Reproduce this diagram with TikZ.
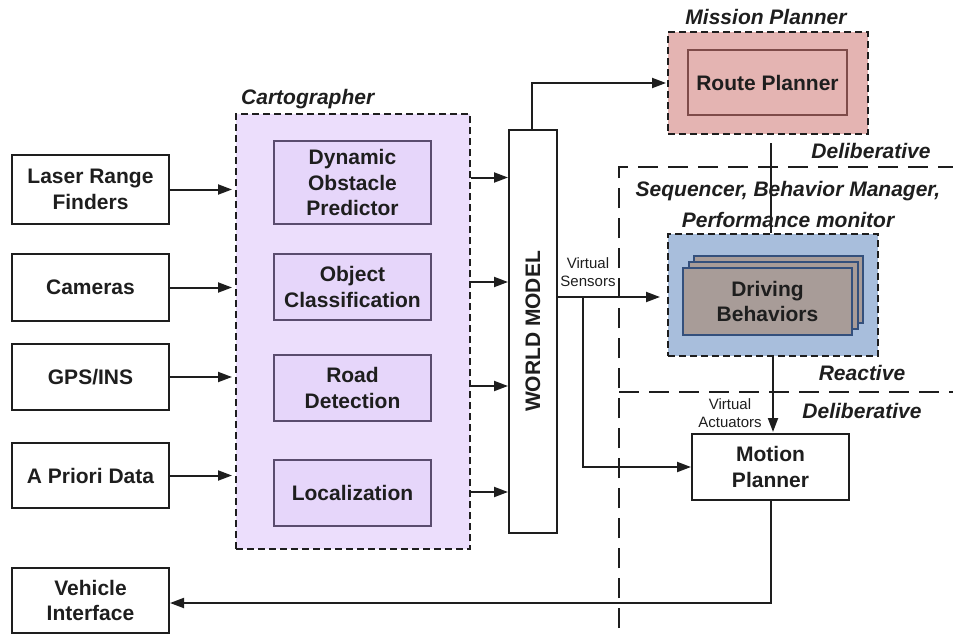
\documentclass[tikz,border=0pt]{standalone}
\usepackage{fontspec}
\setmainfont{Liberation Sans}
\usetikzlibrary{arrows.meta,calc}
\definecolor{cartfill}{RGB}{236,222,252}
\definecolor{cartin}{RGB}{230,214,250}
\definecolor{cartedge}{RGB}{90,76,110}
\definecolor{misfill}{RGB}{228,180,178}
\definecolor{misedge}{RGB}{126,75,73}
\definecolor{blufill}{RGB}{168,190,220}
\definecolor{cardfill}{RGB}{168,156,152}
\definecolor{cardedge}{RGB}{52,80,124}
\definecolor{ink}{RGB}{30,30,30}
\tikzset{
  boxtext/.style={text=ink, font=\bfseries\fontsize{21}{25.5}\selectfont, align=center},
  plainbox/.style={draw=ink, line width=2pt, fill=white, boxtext, inner sep=0pt},
  groupbox/.style={draw=ink, line width=2pt, dash pattern=on 7pt off 4pt, inner sep=0pt},
  innerbox/.style={draw=cartedge, line width=2pt, fill=cartin, boxtext, inner sep=0pt},
  grouplabel/.style={text=ink, font=\bfseries\itshape\fontsize{21}{25}\selectfont, inner sep=0pt},
  smalltext/.style={text=ink, font=\fontsize{15}{18}\selectfont, align=center, inner sep=0pt},
  conn/.style={draw=ink, line width=2pt},
  arr/.style={draw=ink, line width=2pt, -{Triangle[length=14pt,width=10pt]}},
  divider/.style={draw=ink, line width=2pt, dash pattern=on 20pt off 10pt}
}
\begin{document}
\begin{tikzpicture}[x=1pt,y=-1pt]
\useasboundingbox (0,0) rectangle (953,635);

% left input boxes
\node[plainbox, minimum width=157pt, minimum height=69pt] (laser) at (90.5,189.5) {Laser Range\\Finders};
\node[plainbox, minimum width=157pt, minimum height=67pt] (cam) at (90.5,287.5) {Cameras};
\node[plainbox, minimum width=157pt, minimum height=66pt] (gps) at (90.5,377) {GPS/INS};
\node[plainbox, minimum width=157pt, minimum height=65pt] (apr) at (90.5,475.5) {A Priori Data};
\node[plainbox, minimum width=157pt, minimum height=65pt] (veh) at (90.5,600.5) {Vehicle\\Interface};

% cartographer
\node[groupbox, fill=cartfill, minimum width=234pt, minimum height=435pt] (cart) at (353,331.5) {};
\node[grouplabel, anchor=base west] (cartlab) at (241,104) {Cartographer};
\node[innerbox, minimum width=157pt, minimum height=83pt] (dyn) at (352.5,182.5) {Dynamic\\Obstacle\\Predictor};
\node[innerbox, minimum width=157pt, minimum height=66pt] (obj) at (352.5,287) {Object\\Classification};
\node[innerbox, minimum width=157pt, minimum height=66pt] (road) at (352.5,388) {Road\\Detection};
\node[innerbox, minimum width=157pt, minimum height=66pt] (loc) at (352.5,493) {Localization};

% world model
\node[plainbox, minimum width=48pt, minimum height=403pt] (world) at (533,331.5) {};
\node[boxtext, rotate=90] (worldlab) at (533,331.5) {WORLD MODEL};

% mission planner
\node[groupbox, fill=misfill, minimum width=200pt, minimum height=102pt] (mission) at (768,83) {};
\node[grouplabel, anchor=base] (mislab) at (766,24) {Mission Planner};
\node[draw=misedge, line width=2pt, fill=misfill, boxtext, inner sep=0pt, minimum width=159pt, minimum height=65pt] (route) at (767.5,82.5) {Route Planner};

% dividers
\coordinate (dvA) at (619,628);
\coordinate (dvB) at (619,167);
\coordinate (dvC) at (953,167);
\coordinate (dvD) at (619,392);
\coordinate (dvE) at (953,392);
\draw[divider] (dvA) -- (dvB) -- (dvC);
\draw[divider] (dvD) -- (dvE);
\node[grouplabel, anchor=base] (delib1) at (871,158) {Deliberative};
\node[grouplabel, anchor=base] (seq1) at (788,196) {Sequencer, Behavior Manager,};
\node[grouplabel, anchor=base] (seq2) at (788,227) {Performance monitor};
\node[grouplabel, anchor=base] (react) at (862,380) {Reactive};
\node[grouplabel, anchor=base] (delib2) at (862,418) {Deliberative};

% driving behaviors
\node[groupbox, fill=blufill, minimum width=210pt, minimum height=122pt] (drv) at (773,295) {};
\node[draw=cardedge, line width=2pt, fill=cardfill, minimum width=169pt, minimum height=67pt, inner sep=0pt] (card3) at (778.5,289.5) {};
\node[draw=cardedge, line width=2pt, fill=cardfill, minimum width=169pt, minimum height=67pt, inner sep=0pt] (card2) at (773,295.5) {};
\node[draw=cardedge, line width=2pt, fill=cardfill, boxtext, minimum width=169pt, minimum height=67pt, inner sep=0pt] (card1) at (767.5,301.5) {Driving\\Behaviors};

% motion planner
\node[plainbox, minimum width=157pt, minimum height=66pt] (motion) at (770.5,467) {Motion\\Planner};

% inputs to cartographer
\foreach \n in {laser,cam,gps,apr}
  \draw[arr, shorten >=3pt] (\n.east) -- (\n.east -| cart.west);

% cartographer to world model
\draw[arr] ($(cart.east |- dyn.center)+(0,-5)$) -- ($(world.west |- dyn.center)+(0,-5)$);
\draw[arr] ($(cart.east |- obj.center)+(0,-5)$) -- ($(world.west |- obj.center)+(0,-5)$);
\draw[arr] ($(cart.east |- road.center)+(0,-2)$) -- ($(world.west |- road.center)+(0,-2)$);
\draw[arr] ($(cart.east |- loc.center)+(0,-1)$) -- ($(world.west |- loc.center)+(0,-1)$);

% world model to mission planner
\draw[arr, shorten >=1pt] ($(world.north)+(-1,0)$) |- (mission.west);

% virtual sensors
\coordinate (vsOut) at ($(world.east)+(0,-34.5)$);
\coordinate (vsBr) at ($(vsOut)+(25,0)$);
\draw[arr, shorten >=7pt] (vsOut) -- (vsOut -| drv.west);
\draw[arr] (vsBr) |- (motion.west);
\node[smalltext] (vslab) at (588,272) {Virtual\\Sensors};

% mission planner to driving behaviors
\coordinate (mpTop) at ($(mission.south)+(3,8)$);
\draw[conn] (mpTop) -- (mpTop |- drv.north);

% driving behaviors to motion planner
\draw[arr, shorten >=1pt] (drv.south) -- (drv.south |- motion.north);
\node[smalltext] (valab) at (730,413) {Virtual\\Actuators};

% motion planner to vehicle interface
\coordinate (mpBot) at ($(motion.south)+(0,102)$);
\draw[arr] (motion.south) -- (mpBot) -- (mpBot -| veh.east);

\end{tikzpicture}
\end{document}
